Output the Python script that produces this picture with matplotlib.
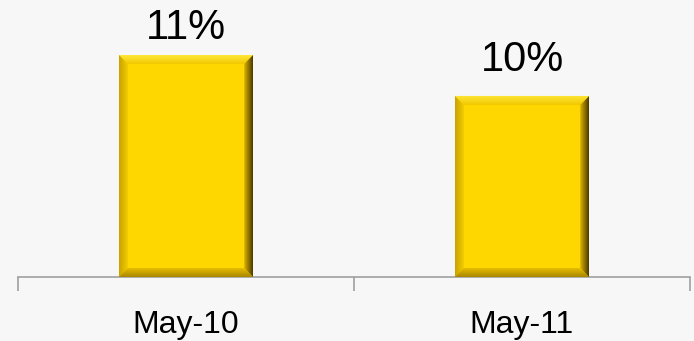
import matplotlib.pyplot as plt
import numpy as np
from matplotlib.patches import Polygon

# Yearly share values shown on top of each bar
periods = ['May-10', 'May-11']
shares = [11, 10]

BG = '#f7f7f7'
GOLD = '#ffd700'
LABEL_GAP_PX = [16, 25]  # space between bar top and label baseline

plt.rcParams['font.family'] = ['Liberation Sans', 'DejaVu Sans']

fig = plt.figure(figsize=(6.94, 3.41), dpi=100, facecolor=BG)
ax = fig.add_axes([18 / 694, 64 / 341, 672 / 694, 257 / 341])
ax.set_facecolor(BG)

x = np.arange(len(periods))
width = 0.4
bars = ax.bar(x, shares, width=width, color=GOLD, zorder=2)

ax.set_xlim(-0.5, len(periods) - 0.5)
ax.set_ylim(5.59, 11.85)

# bevel size in data units, derived from a pixel size
fig.canvas.draw()
bbox = ax.get_window_extent()
x0, x1 = ax.get_xlim()
y0, y1 = ax.get_ylim()
bev_px = 9
px_x = (x1 - x0) / bbox.width
px_y = (y1 - y0) / bbox.height
bx = bev_px * px_x
by = bev_px * px_y


def gradient_fill(poly, c_from, c_to, horizontal, extent):
    cmap = plt.matplotlib.colors.LinearSegmentedColormap.from_list('g', [c_from, c_to])
    grad = np.linspace(0, 1, 64)
    img = grad[None, :] if horizontal else grad[:, None]
    im = ax.imshow(img, cmap=cmap, extent=extent, origin='lower',
                   aspect='auto', zorder=3, interpolation='bilinear')
    ax.add_patch(poly)
    im.set_clip_path(poly)


for bar, gap in zip(bars, LABEL_GAP_PX):
    l = bar.get_x()
    r = l + bar.get_width()
    b = y0
    t = bar.get_height()
    # top face: light highlight
    top = Polygon([(l, t), (r, t), (r - bx, t - by), (l + bx, t - by)],
                  closed=True, facecolor='none', edgecolor='none')
    gradient_fill(top, '#f2c800', '#ffe83a', False, (l, r, t - by, t))
    # left face: slightly darker
    left = Polygon([(l, t), (l + bx, t - by), (l + bx, b + by), (l, b)],
                   closed=True, facecolor='none', edgecolor='none')
    gradient_fill(left, '#c9a200', '#f3cc00', True, (l, l + bx, b, t))
    # bottom face: shaded
    bottom = Polygon([(l, b), (l + bx, b + by), (r - bx, b + by), (r, b)],
                     closed=True, facecolor='none', edgecolor='none')
    gradient_fill(bottom, '#a88700', '#e6bd00', False, (l, r, b, b + by))
    # right face: deep shadow toward the edge
    right = Polygon([(r, t), (r - bx, t - by), (r - bx, b + by), (r, b)],
                    closed=True, facecolor='none', edgecolor='none')
    gradient_fill(right, '#e0b400', '#4a3a00', True, (r - bx, r, b, t))

    ax.text(bar.get_x() + bar.get_width() / 2, t + gap * px_y, f'{t:g}%',
            ha='center', va='baseline', fontsize=30, color='#000000')

for s in ['top', 'left', 'right']:
    ax.spines[s].set_visible(False)
ax.spines['bottom'].set_color('#a0a0a0')
ax.spines['bottom'].set_linewidth(1.2)
ax.set_yticks([])

ax.set_xticks(x)
ax.set_xticklabels(periods, fontsize=23)
ax.tick_params(axis='x', which='major', length=0, pad=24)
ax.set_xticks(np.arange(-0.5, len(periods)), minor=True)
ax.tick_params(axis='x', which='minor', length=10, color='#a0a0a0', width=1.2)

fig.savefig('out.png', dpi=100, facecolor=BG)
